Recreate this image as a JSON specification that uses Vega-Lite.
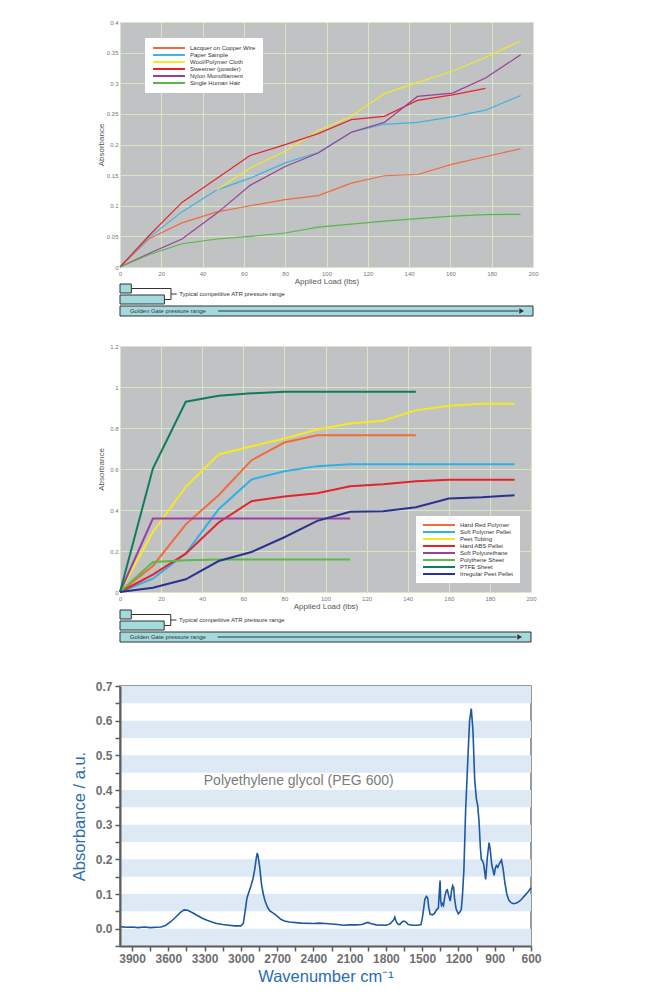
{
"$schema": "https://vega.github.io/schema/vega-lite/v6.json",
"background": "white",
"padding": {"left": 70, "top": 19, "right": 5, "bottom": 5},
"config": {"font": "Liberation Sans", "legend": {"title": null}},
"bounds": "flush",
"spacing": 16,
"resolve": {"scale": {"color": "independent"}, "legend": {"color": "independent"}},
"datasets": {
"top": [
{"s":"Lacquer on Copper Wire","x":0,"y":0},{"s":"Lacquer on Copper Wire","x":14,"y":0.046},{"s":"Lacquer on Copper Wire","x":30,"y":0.072},{"s":"Lacquer on Copper Wire","x":47,"y":0.09},{"s":"Lacquer on Copper Wire","x":63,"y":0.1},{"s":"Lacquer on Copper Wire","x":80,"y":0.11},{"s":"Lacquer on Copper Wire","x":96,"y":0.1165},{"s":"Lacquer on Copper Wire","x":112,"y":0.137},{"s":"Lacquer on Copper Wire","x":128,"y":0.149},{"s":"Lacquer on Copper Wire","x":144,"y":0.151},{"s":"Lacquer on Copper Wire","x":161,"y":0.168},{"s":"Lacquer on Copper Wire","x":177,"y":0.18},{"s":"Lacquer on Copper Wire","x":194,"y":0.193},
{"s":"Paper Sample","x":0,"y":0},{"s":"Paper Sample","x":14,"y":0.048},{"s":"Paper Sample","x":30,"y":0.09},{"s":"Paper Sample","x":47,"y":0.126},{"s":"Paper Sample","x":63,"y":0.145},{"s":"Paper Sample","x":80,"y":0.17},{"s":"Paper Sample","x":96,"y":0.187},{"s":"Paper Sample","x":112,"y":0.22},{"s":"Paper Sample","x":128,"y":0.233},{"s":"Paper Sample","x":144,"y":0.236},{"s":"Paper Sample","x":161,"y":0.245},{"s":"Paper Sample","x":177,"y":0.256},{"s":"Paper Sample","x":194,"y":0.28},
{"s":"Wool/Polymer Cloth","x":47,"y":0.126},{"s":"Wool/Polymer Cloth","x":63,"y":0.1616},{"s":"Wool/Polymer Cloth","x":80,"y":0.189},{"s":"Wool/Polymer Cloth","x":96,"y":0.223},{"s":"Wool/Polymer Cloth","x":112,"y":0.246},{"s":"Wool/Polymer Cloth","x":128,"y":0.283},{"s":"Wool/Polymer Cloth","x":144,"y":0.301},{"s":"Wool/Polymer Cloth","x":161,"y":0.32},{"s":"Wool/Polymer Cloth","x":177,"y":0.342},{"s":"Wool/Polymer Cloth","x":194,"y":0.3695},
{"s":"Sweetner (powder)","x":0,"y":0},{"s":"Sweetner (powder)","x":14,"y":0.051},{"s":"Sweetner (powder)","x":30,"y":0.1055},{"s":"Sweetner (powder)","x":47,"y":0.145},{"s":"Sweetner (powder)","x":63,"y":0.182},{"s":"Sweetner (powder)","x":80,"y":0.1997},{"s":"Sweetner (powder)","x":96,"y":0.2177},{"s":"Sweetner (powder)","x":112,"y":0.2405},{"s":"Sweetner (powder)","x":128,"y":0.246},{"s":"Sweetner (powder)","x":144,"y":0.272},{"s":"Sweetner (powder)","x":161,"y":0.281},{"s":"Sweetner (powder)","x":177,"y":0.2916},
{"s":"Nylon Monofilament","x":0,"y":0},{"s":"Nylon Monofilament","x":14,"y":0.022},{"s":"Nylon Monofilament","x":30,"y":0.0457},{"s":"Nylon Monofilament","x":47,"y":0.088},{"s":"Nylon Monofilament","x":63,"y":0.1333},{"s":"Nylon Monofilament","x":80,"y":0.164},{"s":"Nylon Monofilament","x":96,"y":0.186},{"s":"Nylon Monofilament","x":112,"y":0.22},{"s":"Nylon Monofilament","x":128,"y":0.236},{"s":"Nylon Monofilament","x":144,"y":0.2785},{"s":"Nylon Monofilament","x":161,"y":0.284},{"s":"Nylon Monofilament","x":177,"y":0.3085},{"s":"Nylon Monofilament","x":194,"y":0.3465},
{"s":"Single Human Hair","x":0,"y":0},{"s":"Single Human Hair","x":14,"y":0.02},{"s":"Single Human Hair","x":30,"y":0.038},{"s":"Single Human Hair","x":47,"y":0.0457},{"s":"Single Human Hair","x":63,"y":0.05},{"s":"Single Human Hair","x":80,"y":0.0555},{"s":"Single Human Hair","x":96,"y":0.065},{"s":"Single Human Hair","x":112,"y":0.07},{"s":"Single Human Hair","x":128,"y":0.075},{"s":"Single Human Hair","x":144,"y":0.079},{"s":"Single Human Hair","x":161,"y":0.083},{"s":"Single Human Hair","x":177,"y":0.0854},{"s":"Single Human Hair","x":194,"y":0.086}
],
"mid": [
{"s":"Hard Red Polymer","x":0,"y":0},{"s":"Hard Red Polymer","x":16,"y":0.127},{"s":"Hard Red Polymer","x":32,"y":0.33},{"s":"Hard Red Polymer","x":48,"y":0.472},{"s":"Hard Red Polymer","x":64,"y":0.643},{"s":"Hard Red Polymer","x":80,"y":0.729},{"s":"Hard Red Polymer","x":96,"y":0.765},{"s":"Hard Red Polymer","x":112,"y":0.765},{"s":"Hard Red Polymer","x":128,"y":0.765},{"s":"Hard Red Polymer","x":144,"y":0.765},
{"s":"Soft Polymer Pellet","x":0,"y":0},{"s":"Soft Polymer Pellet","x":16,"y":0.065},{"s":"Soft Polymer Pellet","x":32,"y":0.187},{"s":"Soft Polymer Pellet","x":48,"y":0.404},{"s":"Soft Polymer Pellet","x":64,"y":0.549},{"s":"Soft Polymer Pellet","x":80,"y":0.589},{"s":"Soft Polymer Pellet","x":96,"y":0.614},{"s":"Soft Polymer Pellet","x":112,"y":0.6235},{"s":"Soft Polymer Pellet","x":128,"y":0.6235},{"s":"Soft Polymer Pellet","x":144,"y":0.6235},{"s":"Soft Polymer Pellet","x":160,"y":0.6235},{"s":"Soft Polymer Pellet","x":176,"y":0.6235},{"s":"Soft Polymer Pellet","x":192,"y":0.6235},
{"s":"Peet Tubing","x":0,"y":0},{"s":"Peet Tubing","x":16,"y":0.293},{"s":"Peet Tubing","x":32,"y":0.513},{"s":"Peet Tubing","x":48,"y":0.671},{"s":"Peet Tubing","x":64,"y":0.711},{"s":"Peet Tubing","x":80,"y":0.749},{"s":"Peet Tubing","x":96,"y":0.793},{"s":"Peet Tubing","x":112,"y":0.822},{"s":"Peet Tubing","x":128,"y":0.835},{"s":"Peet Tubing","x":144,"y":0.886},{"s":"Peet Tubing","x":160,"y":0.908},{"s":"Peet Tubing","x":176,"y":0.918},{"s":"Peet Tubing","x":192,"y":0.918},
{"s":"Hard ABS Pellet","x":0,"y":0},{"s":"Hard ABS Pellet","x":16,"y":0.085},{"s":"Hard ABS Pellet","x":32,"y":0.187},{"s":"Hard ABS Pellet","x":48,"y":0.339},{"s":"Hard ABS Pellet","x":64,"y":0.443},{"s":"Hard ABS Pellet","x":80,"y":0.466},{"s":"Hard ABS Pellet","x":96,"y":0.482},{"s":"Hard ABS Pellet","x":112,"y":0.516},{"s":"Hard ABS Pellet","x":128,"y":0.526},{"s":"Hard ABS Pellet","x":144,"y":0.54},{"s":"Hard ABS Pellet","x":160,"y":0.547},{"s":"Hard ABS Pellet","x":176,"y":0.547},{"s":"Hard ABS Pellet","x":192,"y":0.547},
{"s":"Soft Polyurethane","x":0,"y":0},{"s":"Soft Polyurethane","x":16,"y":0.358},{"s":"Soft Polyurethane","x":32,"y":0.358},{"s":"Soft Polyurethane","x":48,"y":0.358},{"s":"Soft Polyurethane","x":64,"y":0.358},{"s":"Soft Polyurethane","x":80,"y":0.358},{"s":"Soft Polyurethane","x":96,"y":0.358},{"s":"Soft Polyurethane","x":112,"y":0.358},
{"s":"Polythene Sheet","x":0,"y":0},{"s":"Polythene Sheet","x":16,"y":0.1465},{"s":"Polythene Sheet","x":32,"y":0.155},{"s":"Polythene Sheet","x":48,"y":0.158},{"s":"Polythene Sheet","x":64,"y":0.158},{"s":"Polythene Sheet","x":80,"y":0.158},{"s":"Polythene Sheet","x":96,"y":0.158},{"s":"Polythene Sheet","x":112,"y":0.158},
{"s":"PTFE Sheet","x":0,"y":0},{"s":"PTFE Sheet","x":16,"y":0.602},{"s":"PTFE Sheet","x":32,"y":0.928},{"s":"PTFE Sheet","x":48,"y":0.957},{"s":"PTFE Sheet","x":64,"y":0.969},{"s":"PTFE Sheet","x":80,"y":0.977},{"s":"PTFE Sheet","x":96,"y":0.977},{"s":"PTFE Sheet","x":112,"y":0.977},{"s":"PTFE Sheet","x":128,"y":0.977},{"s":"PTFE Sheet","x":144,"y":0.977},
{"s":"Irregular Peet Pellet","x":0,"y":0},{"s":"Irregular Peet Pellet","x":16,"y":0.021},{"s":"Irregular Peet Pellet","x":32,"y":0.062},{"s":"Irregular Peet Pellet","x":48,"y":0.151},{"s":"Irregular Peet Pellet","x":64,"y":0.195},{"s":"Irregular Peet Pellet","x":80,"y":0.267},{"s":"Irregular Peet Pellet","x":96,"y":0.347},{"s":"Irregular Peet Pellet","x":112,"y":0.391},{"s":"Irregular Peet Pellet","x":128,"y":0.394},{"s":"Irregular Peet Pellet","x":144,"y":0.413},{"s":"Irregular Peet Pellet","x":160,"y":0.456},{"s":"Irregular Peet Pellet","x":176,"y":0.462},{"s":"Irregular Peet Pellet","x":192,"y":0.472}
],
"boxes": [{"x0":0,"x1":5.5,"y0":1,"y1":10},{"x0":0,"x1":21.5,"y0":12,"y1":21},{"x0":0,"x1":200,"y0":23,"y1":33}],
"segs": [{"x0":5.5,"x1":24.7,"y0":5.5,"y1":5.5},{"x0":24.7,"x1":24.7,"y0":5.5,"y1":16.5},{"x0":21.5,"x1":24.7,"y0":16.5,"y1":16.5},{"x0":24.7,"x1":27.5,"y0":11,"y1":11},{"x0":47.5,"x1":193,"y0":28,"y1":28}],
"labels": [{"x0":28.7,"y0":11,"t":"Typical competitive ATR pressure range"},{"x0":4.8,"y0":28,"t":"Golden Gate pressure range"}],
"heads": [{"x0":194.5,"y0":28}],
"stripes": [{"lo":-0.05,"hi":0},{"lo":0.05,"hi":0.1},{"lo":0.15,"hi":0.2},{"lo":0.25,"hi":0.3},{"lo":0.35,"hi":0.4},{"lo":0.45,"hi":0.5},{"lo":0.55,"hi":0.6},{"lo":0.65,"hi":0.7}],
"note": [{"wn":3307,"ab":0.425,"t":"Polyethylene glycol (PEG 600)"}],
"spec": [
{"wn":4000,"ab":0.006},{"wn":3950,"ab":0.004},{"wn":3900,"ab":0.005},{"wn":3850,"ab":0.003},{"wn":3800,"ab":0.005},{"wn":3750,"ab":0.003},{"wn":3700,"ab":0.004},{"wn":3660,"ab":0.005},{"wn":3620,"ab":0.01},{"wn":3580,"ab":0.02},{"wn":3540,"ab":0.033},{"wn":3500,"ab":0.047},{"wn":3470,"ab":0.054},{"wn":3440,"ab":0.053},{"wn":3400,"ab":0.046},{"wn":3360,"ab":0.038},{"wn":3320,"ab":0.03},{"wn":3280,"ab":0.024},{"wn":3240,"ab":0.019},{"wn":3200,"ab":0.015},{"wn":3150,"ab":0.012},{"wn":3100,"ab":0.01},{"wn":3050,"ab":0.008},{"wn":3000,"ab":0.008},{"wn":2980,"ab":0.015},{"wn":2965,"ab":0.05},{"wn":2950,"ab":0.088},{"wn":2935,"ab":0.104},{"wn":2915,"ab":0.125},{"wn":2900,"ab":0.144},{"wn":2885,"ab":0.172},{"wn":2872,"ab":0.205},{"wn":2865,"ab":0.218},{"wn":2858,"ab":0.21},{"wn":2845,"ab":0.18},{"wn":2830,"ab":0.13},{"wn":2815,"ab":0.1},{"wn":2800,"ab":0.08},{"wn":2780,"ab":0.062},{"wn":2760,"ab":0.051},{"wn":2720,"ab":0.042},{"wn":2700,"ab":0.036},{"wn":2670,"ab":0.027},{"wn":2640,"ab":0.022},{"wn":2600,"ab":0.019},{"wn":2500,"ab":0.016},{"wn":2400,"ab":0.015},{"wn":2350,"ab":0.016},{"wn":2300,"ab":0.015},{"wn":2200,"ab":0.012},{"wn":2150,"ab":0.01},{"wn":2100,"ab":0.011},{"wn":2050,"ab":0.011},{"wn":2000,"ab":0.012},{"wn":1950,"ab":0.018},{"wn":1920,"ab":0.014},{"wn":1880,"ab":0.011},{"wn":1800,"ab":0.01},{"wn":1770,"ab":0.013},{"wn":1750,"ab":0.02},{"wn":1735,"ab":0.026},{"wn":1727,"ab":0.033},{"wn":1715,"ab":0.02},{"wn":1700,"ab":0.013},{"wn":1685,"ab":0.012},{"wn":1665,"ab":0.02},{"wn":1650,"ab":0.022},{"wn":1635,"ab":0.019},{"wn":1615,"ab":0.012},{"wn":1580,"ab":0.01},{"wn":1540,"ab":0.01},{"wn":1510,"ab":0.012},
{"wn":1500,"ab":0.028},{"wn":1490,"ab":0.053},{"wn":1478,"ab":0.085},{"wn":1465,"ab":0.093},{"wn":1455,"ab":0.088},{"wn":1446,"ab":0.062},{"wn":1435,"ab":0.042},{"wn":1415,"ab":0.04},{"wn":1400,"ab":0.043},{"wn":1380,"ab":0.055},{"wn":1366,"ab":0.06},{"wn":1358,"ab":0.11},{"wn":1352,"ab":0.139},{"wn":1347,"ab":0.08},{"wn":1340,"ab":0.067},{"wn":1332,"ab":0.072},{"wn":1324,"ab":0.067},{"wn":1312,"ab":0.095},{"wn":1300,"ab":0.11},{"wn":1292,"ab":0.112},{"wn":1283,"ab":0.098},{"wn":1268,"ab":0.08},{"wn":1257,"ab":0.11},{"wn":1248,"ab":0.124},{"wn":1240,"ab":0.118},{"wn":1232,"ab":0.085},{"wn":1220,"ab":0.058},{"wn":1202,"ab":0.043},{"wn":1188,"ab":0.048},{"wn":1177,"ab":0.055},{"wn":1168,"ab":0.09},{"wn":1155,"ab":0.17},{"wn":1141,"ab":0.34},{"wn":1121,"ab":0.5},{"wn":1108,"ab":0.6},{"wn":1094,"ab":0.635},{"wn":1080,"ab":0.57},{"wn":1066,"ab":0.43},{"wn":1052,"ab":0.375},{"wn":1041,"ab":0.355},{"wn":1030,"ab":0.31},{"wn":1019,"ab":0.235},{"wn":1011,"ab":0.2},{"wn":1000,"ab":0.195},{"wn":991,"ab":0.185},{"wn":975,"ab":0.142},{"wn":961,"ab":0.206},{"wn":947,"ab":0.248},{"wn":938,"ab":0.23},{"wn":925,"ab":0.185},{"wn":905,"ab":0.154},{"wn":895,"ab":0.175},{"wn":886,"ab":0.182},{"wn":875,"ab":0.177},{"wn":864,"ab":0.186},{"wn":844,"ab":0.198},{"wn":830,"ab":0.17},{"wn":815,"ab":0.13},{"wn":800,"ab":0.1},{"wn":785,"ab":0.083},{"wn":765,"ab":0.075},{"wn":745,"ab":0.072},{"wn":720,"ab":0.074},{"wn":700,"ab":0.078},{"wn":680,"ab":0.084},{"wn":650,"ab":0.096},{"wn":620,"ab":0.108},{"wn":600,"ab":0.118}
]
},
"vconcat": [
{
"width": 413, "height": 245,
"view": {"fill": "#c1c2c3", "stroke": null},
"data": {"name": "top"},
"mark": {"type": "line", "strokeWidth": 1.2},
"encoding": {
"x": {"field": "x", "type": "quantitative", "scale": {"domain": [0, 200], "nice": false},
"axis": {"title": "Applied Load (lbs)", "values": [0,20,40,60,80,100,120,140,160,180,200], "tickCount": 50, "labelFlush": false, "domain": false, "ticks": false, "gridColor": "#d7e7c6", "gridOpacity": 1, "labelFontSize": 6, "labelColor": "#777", "labelPadding": 3, "titleFontSize": 8, "titleFontWeight": "normal", "titleColor": "#555", "titlePadding": 1}},
"y": {"field": "y", "type": "quantitative", "scale": {"domain": [0, 0.4], "nice": false},
"axis": {"title": "Absorbance", "values": [0,0.05,0.1,0.15,0.2,0.25,0.3,0.35,0.4], "tickCount": 50, "format": "~g", "domain": false, "ticks": false, "gridColor": "#d7e7c6", "gridOpacity": 1, "labelFontSize": 6, "labelColor": "#777", "labelPadding": 2, "titleFontSize": 8, "titleFontWeight": "normal", "titleColor": "#555", "titlePadding": 1}},
"color": {"field": "s", "type": "nominal",
"scale": {"domain": ["Lacquer on Copper Wire","Paper Sample","Wool/Polymer Cloth","Sweetner (powder)","Nylon Monofilament","Single Human Hair"], "range": ["#f26a3d","#3fb3e3","#f3e826","#e3262d","#9a3f97","#58b847"]},
"legend": {"orient": "none", "legendX": 25, "legendY": 16, "fillColor": "white", "padding": 7, "symbolType": "stroke", "symbolSize": 1024, "clipHeight": 6, "symbolStrokeWidth": 2, "labelFontSize": 6, "labelColor": "#333", "rowPadding": 1, "labelOffset": 4}}
}
},
{
"width": 413, "height": 47,
"view": {"stroke": null},
"layer": [
{"data": {"name": "boxes"}, "mark": {"type": "rect", "fill": "#a3dadd", "stroke": "#333", "strokeWidth": 1},
"encoding": {"x": {"field": "x0", "type": "quantitative", "scale": {"domain": [0, 200], "nice": false}, "axis": null}, "x2": {"field": "x1"},
"y": {"field": "y0", "type": "quantitative", "scale": {"domain": [0, 47], "nice": false, "reverse": true}, "axis": null}, "y2": {"field": "y1"}}},
{"data": {"name": "segs"}, "mark": {"type": "rule", "color": "#333", "strokeWidth": 1},
"encoding": {"x": {"field": "x0", "type": "quantitative"}, "x2": {"field": "x1"}, "y": {"field": "y0", "type": "quantitative"}, "y2": {"field": "y1"}}},
{"data": {"name": "heads"}, "mark": {"type": "point", "shape": "triangle-right", "filled": true, "color": "#333", "size": 30, "opacity": 1},
"encoding": {"x": {"field": "x0", "type": "quantitative"}, "y": {"field": "y0", "type": "quantitative"}}},
{"data": {"name": "labels"}, "mark": {"type": "text", "align": "left", "baseline": "middle", "fontSize": 6, "color": "#333"},
"encoding": {"x": {"field": "x0", "type": "quantitative"}, "y": {"field": "y0", "type": "quantitative"}, "text": {"field": "t"}}}
]
},
{
"width": 411, "height": 246,
"view": {"fill": "#c1c2c3", "stroke": null},
"data": {"name": "mid"},
"mark": {"type": "line", "strokeWidth": 2},
"encoding": {
"x": {"field": "x", "type": "quantitative", "scale": {"domain": [0, 200], "nice": false},
"axis": {"title": "Applied Load (lbs)", "values": [0,20,40,60,80,100,120,140,160,180,200], "tickCount": 50, "labelFlush": false, "domain": false, "ticks": false, "gridColor": "#d7e7c6", "gridOpacity": 1, "labelFontSize": 6, "labelColor": "#777", "labelPadding": 3, "titleFontSize": 8, "titleFontWeight": "normal", "titleColor": "#555", "titlePadding": 1}},
"y": {"field": "y", "type": "quantitative", "scale": {"domain": [0, 1.2], "nice": false},
"axis": {"title": "Absorbance", "values": [0,0.2,0.4,0.6,0.8,1,1.2], "tickCount": 50, "format": "~g", "domain": false, "ticks": false, "gridColor": "#d7e7c6", "gridOpacity": 1, "labelFontSize": 6, "labelColor": "#777", "labelPadding": 2, "titleFontSize": 8, "titleFontWeight": "normal", "titleColor": "#555", "titlePadding": 4}},
"color": {"field": "s", "type": "nominal",
"scale": {"domain": ["Hard Red Polymer","Soft Polymer Pellet","Peet Tubing","Hard ABS Pellet","Soft Polyurethane","Polythene Sheet","PTFE Sheet","Irregular Peet Pellet"], "range": ["#f26a3d","#2fb0e6","#f5ea20","#e6232b","#9b40a0","#5cba47","#0e7c5e","#2b3190"]},
"legend": {"orient": "none", "legendX": 296, "legendY": 170, "fillColor": "white", "padding": 6, "symbolType": "stroke", "symbolSize": 1024, "clipHeight": 6, "symbolStrokeWidth": 2, "labelFontSize": 6, "labelColor": "#333", "rowPadding": 1, "labelOffset": 4}}
}
},
{
"width": 411, "height": 62,
"view": {"stroke": null},
"layer": [
{"data": {"name": "boxes"}, "mark": {"type": "rect", "fill": "#a3dadd", "stroke": "#333", "strokeWidth": 1},
"encoding": {"x": {"field": "x0", "type": "quantitative", "scale": {"domain": [0, 200], "nice": false}, "axis": null}, "x2": {"field": "x1"},
"y": {"field": "y0", "type": "quantitative", "scale": {"domain": [-1, 61], "nice": false, "reverse": true}, "axis": null}, "y2": {"field": "y1"}}},
{"data": {"name": "segs"}, "mark": {"type": "rule", "color": "#333", "strokeWidth": 1},
"encoding": {"x": {"field": "x0", "type": "quantitative"}, "x2": {"field": "x1"}, "y": {"field": "y0", "type": "quantitative"}, "y2": {"field": "y1"}}},
{"data": {"name": "heads"}, "mark": {"type": "point", "shape": "triangle-right", "filled": true, "color": "#333", "size": 30, "opacity": 1},
"encoding": {"x": {"field": "x0", "type": "quantitative"}, "y": {"field": "y0", "type": "quantitative"}}},
{"data": {"name": "labels"}, "mark": {"type": "text", "align": "left", "baseline": "middle", "fontSize": 6, "color": "#333"},
"encoding": {"x": {"field": "x0", "type": "quantitative"}, "y": {"field": "y0", "type": "quantitative"}, "text": {"field": "t"}}}
]
},
{
"width": 411, "height": 260,
"view": {"fill": "white", "stroke": "#7a7a7a", "strokeWidth": 1.5},
"layer": [
{"data": {"name": "stripes"}, "mark": {"type": "rect", "color": "#dde9f5"},
"encoding": {"y": {"field": "lo", "type": "quantitative", "scale": {"domain": [-0.05, 0.7], "nice": false, "zero": false}}, "y2": {"field": "hi"}}},
{"data": {"name": "spec"}, "mark": {"type": "line", "color": "#1d58a5", "strokeWidth": 1.6},
"encoding": {
"x": {"field": "wn", "type": "quantitative", "scale": {"domain": [600, 4000], "reverse": true, "nice": false, "zero": false},
"axis": {"title": "Wavenumber cm⁻¹", "zindex": 1, "values": [3900,3750,3600,3450,3300,3150,3000,2850,2700,2550,2400,2250,2100,1950,1800,1650,1500,1350,1200,1050,900,750,600], "tickCount": 100, "labelExpr": "datum.value % 300 == 0 ? '' + datum.value : ''", "labelOverlap": false, "labelFlush": false, "grid": false, "domainColor": "#5d5d5d", "domainWidth": 2, "tickColor": "#5d5d5d", "tickWidth": 1.5, "tickSize": 5, "labelFontSize": 12, "labelFontWeight": "bold", "labelColor": "#6d6e71", "labelPadding": 2, "titleFontSize": 16.5, "titleFontWeight": "normal", "titleColor": "#2a6db5", "titlePadding": 4}},
"y": {"field": "ab", "type": "quantitative", "scale": {"domain": [-0.05, 0.7], "nice": false, "zero": false},
"axis": {"title": "Absorbance / a.u.", "zindex": 1, "values": [-0.05,0,0.05,0.1,0.15,0.2,0.25,0.3,0.35,0.4,0.45,0.5,0.55,0.6,0.65,0.7], "tickCount": 100, "labelExpr": "abs(round(datum.value*100)) % 10 == 0 ? format(datum.value, '.1f') : ''", "labelOverlap": false, "labelFlush": false, "grid": false, "domainColor": "#5d5d5d", "domainWidth": 2, "tickColor": "#5d5d5d", "tickWidth": 1.5, "tickSize": 5, "labelFontSize": 12, "labelFontWeight": "bold", "labelColor": "#6d6e71", "labelPadding": 3, "titleFontSize": 16.5, "titleFontWeight": "normal", "titleColor": "#2a6db5", "titlePadding": 8}}
}},
{"data": {"name": "note"}, "mark": {"type": "text", "align": "left", "baseline": "middle", "fontSize": 14, "color": "#7b7b7b"},
"encoding": {"x": {"field": "wn", "type": "quantitative"}, "y": {"field": "ab", "type": "quantitative"}, "text": {"field": "t"}}}
]
}
]
}
